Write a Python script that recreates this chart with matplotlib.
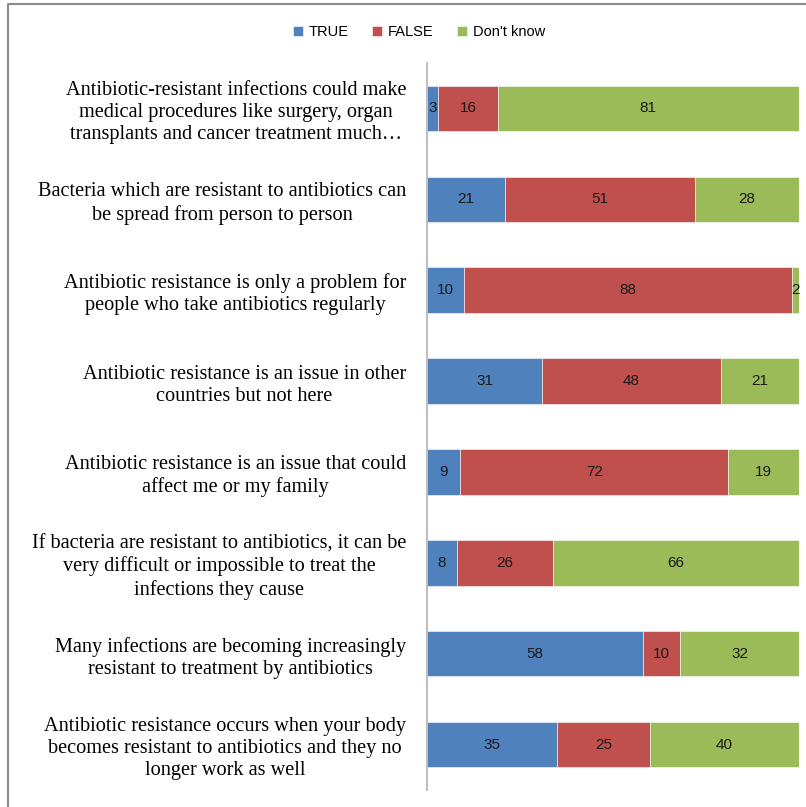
import matplotlib.pyplot as plt
import numpy as np

statements = [
    "Antibiotic-resistant infections could make\nmedical procedures like surgery, organ\ntransplants and cancer treatment much\u2026",
    "Bacteria which are resistant to antibiotics can\nbe spread from person to person",
    "Antibiotic resistance is only a problem for\npeople who take antibiotics regularly",
    "Antibiotic resistance is an issue in other\ncountries but not here",
    "Antibiotic resistance is an issue that could\naffect me or my family",
    "If bacteria are resistant to antibiotics, it can be\nvery difficult or impossible to treat the\ninfections they cause",
    "Many infections are becoming increasingly\nresistant to treatment by antibiotics",
    "Antibiotic resistance occurs when your body\nbecomes resistant to antibiotics and they no\nlonger work as well",
]
true_pct = [3, 21, 10, 31, 9, 8, 58, 35]
false_pct = [16, 51, 88, 48, 72, 26, 10, 25]
dont_know = [81, 28, 2, 21, 19, 66, 32, 40]

series = [("TRUE", true_pct, "#4F81BD"),
          ("FALSE", false_pct, "#C0504D"),
          ("Don't know", dont_know, "#9BBB59")]

fig = plt.figure(figsize=(8.06, 8.07), dpi=100)
ax = fig.add_axes([0.5298, 0.0211, 0.4615, 0.9008])

y = np.arange(len(statements))
left = np.zeros(len(statements))
for name, vals, col in series:
    vals = np.array(vals, dtype=float)
    bars = ax.barh(y, vals, left=left, height=0.5, color=col, label=name,
                   edgecolor="white", linewidth=0.4)
    for b, v in zip(bars, vals):
        ax.text(b.get_x() + b.get_width() / 2, b.get_y() + b.get_height() / 2,
                f"{int(v)}", ha="center", va="center", fontsize=11,
                family="Liberation Sans", color="#1a1a1a")
    left += vals

ax.set_xlim(0, 100)
ax.set_ylim(len(statements) - 0.5, -0.5)
ax.set_xticks([])
ax.set_yticks(y)
ax.set_yticklabels(statements, family="Liberation Serif", fontsize=14.6,
                   multialignment="center", linespacing=1.22)
ax.tick_params(axis="y", length=0, pad=15)
for s in ["top", "right", "bottom"]:
    ax.spines[s].set_visible(False)
ax.spines["left"].set_color("#BFBFBF")
ax.spines["left"].set_linewidth(1.5)

fig.legend(loc="upper center", bbox_to_anchor=(0.52, 0.985), ncol=3,
           frameon=False, prop={"family": "Liberation Sans", "size": 10.5},
           handlelength=0.7, handleheight=0.7, handletextpad=0.4,
           columnspacing=1.6)

# outer chart border (top and left edges)
fig.add_artist(plt.Line2D([0.0105, 0.0105, 1.0], [0.0, 0.9945, 0.9945],
                          transform=fig.transFigure, color="#8C8C8C", lw=1.5))

fig.savefig("out.png", dpi=100)
